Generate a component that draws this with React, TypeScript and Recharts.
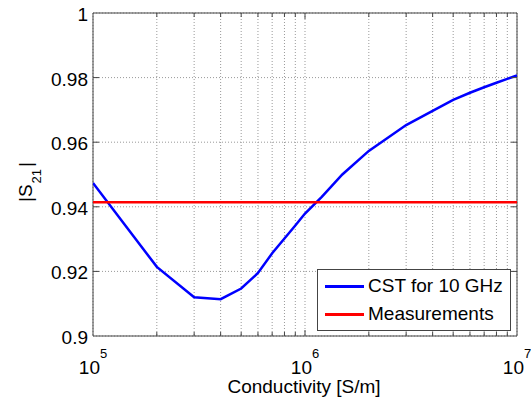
import React from 'react';
import { LineChart, Line, XAxis, YAxis, CartesianGrid, ReferenceArea, Legend } from 'recharts';

// conductivity sweep (S/m) and simulated |S21|
const CST_SIGMA = [1e5, 2e5, 3e5, 4e5, 5e5, 6e5, 7e5, 8e5, 9e5, 1e6, 1.2e6, 1.5e6, 2e6, 3e6, 4e6, 5e6, 6e6, 7e6, 8e6, 9e6, 1e7];
const CST_S21 = [0.9474, 0.9214, 0.912, 0.9114, 0.9147, 0.9195, 0.9256, 0.9302, 0.9342, 0.9379, 0.9431, 0.95, 0.9573, 0.9653, 0.9697, 0.9731, 0.9753, 0.977, 0.9784, 0.9796, 0.9807];

// measured level, drawn across the whole sweep
const MEAS_SIGMA = [1e5, 1e7];
const MEAS_S21 = [0.9414, 0.9414];

const X_TICKS = [
  1e5, 2e5, 3e5, 4e5, 5e5, 6e5, 7e5, 8e5, 9e5,
  1e6, 2e6, 3e6, 4e6, 5e6, 6e6, 7e6, 8e6, 9e6, 1e7,
];
const Y_TICKS = [0.9, 0.92, 0.94, 0.96, 0.98, 1];

const cstData = CST_SIGMA.map((sigma, i) => ({ sigma, s21: CST_S21[i] }));
const measData = MEAS_SIGMA.map((sigma, i) => ({ sigma, s21: MEAS_S21[i] }));

const W = 531;
const H = 403;
const PLOT = { left: 93, top: 13, right: 517, bottom: 336 };
const FONT = '"Liberation Sans", Arial, Helvetica, sans-serif';
const FS = 19;
const BOX = '#444';

function isDecade(v: number) {
  const e = Math.log10(v);
  return Math.abs(e - Math.round(e)) < 1e-9;
}

function XTick(props: any) {
  const { x, payload } = props;
  const v = payload.value as number;
  const major = isDecade(v);
  const len = major ? 6 : 4;
  const edge = v === X_TICKS[0] || v === X_TICKS[X_TICKS.length - 1];
  return (
    <g>
      {!edge && <line x1={x} y1={PLOT.bottom} x2={x} y2={PLOT.bottom - len} stroke={BOX} />}
      {!edge && <line x1={x} y1={PLOT.top} x2={x} y2={PLOT.top + len} stroke={BOX} />}
      {major && (
        <text x={x} y={PLOT.bottom + 38} textAnchor="middle" fontFamily={FONT} fontSize={FS} fill="#000">
          <tspan>10</tspan>
          <tspan dy={-16} fontSize={13}>{Math.round(Math.log10(v))}</tspan>
        </text>
      )}
    </g>
  );
}

function YTick(props: any) {
  const { y, payload } = props;
  const v = payload.value as number;
  const edge = v === Y_TICKS[0] || v === Y_TICKS[Y_TICKS.length - 1];
  return (
    <g>
      {!edge && <line x1={PLOT.left} y1={y} x2={PLOT.left + 6} y2={y} stroke={BOX} />}
      {!edge && <line x1={PLOT.right} y1={y} x2={PLOT.right - 6} y2={y} stroke={BOX} />}
      <text x={PLOT.left - 5} y={y + 8} textAnchor="end" fontFamily={FONT} fontSize={FS} fill="#000">
        {String(+v.toFixed(2))}
      </text>
    </g>
  );
}

function LegendBox({ payload }: any) {
  return (
    <div
      style={{
        width: 192,
        height: 60,
        background: '#fff',
        border: `1px solid ${BOX}`,
        fontFamily: FONT,
        fontSize: FS,
        color: '#000',
        boxSizing: 'content-box',
      }}
    >
      {(payload || []).map((item: any, i: number) => (
        <div key={i} style={{ display: 'flex', alignItems: 'center', height: 28, marginTop: i === 0 ? 2 : 0 }}>
          <div style={{ width: 39, height: 3, background: item.color, marginLeft: 7, marginRight: 4 }} />
          <span>{item.value}</span>
        </div>
      ))}
    </div>
  );
}

export default function App() {
  return (
    <div style={{ position: 'absolute', left: 0, top: 0, width: W, height: H, background: '#fff' }}>
      <LineChart
        width={W}
        height={H}
        margin={{ top: PLOT.top, right: W - PLOT.right, left: PLOT.left - 60, bottom: H - PLOT.bottom - 60 }}
      >
        <CartesianGrid stroke="#999" strokeDasharray="1 2" />
        <XAxis
          dataKey="sigma"
          type="number"
          scale="log"
          domain={[1e5, 1e7]}
          ticks={X_TICKS}
          interval={0}
          height={60}
          axisLine={false}
          tickLine={false}
          tickSize={0}
          tickMargin={0}
          tick={<XTick />}
          allowDataOverflow
          label={{
            content: () => (
              <text x={304} y={H - 10} textAnchor="middle" fontFamily={FONT} fontSize={FS} fill="#000">
                Conductivity [S/m]
              </text>
            ),
          }}
        />
        <YAxis
          type="number"
          domain={[0.9, 1]}
          ticks={Y_TICKS}
          interval={0}
          width={60}
          axisLine={false}
          tickLine={false}
          tickSize={0}
          tickMargin={0}
          tick={<YTick />}
          allowDataOverflow
          label={{
            content: () => (
              <text x={32} y={182} transform="rotate(-90, 32, 182)" textAnchor="middle" fontFamily={FONT} fontSize={FS} fill="#000">
                <tspan>|S</tspan>
                <tspan dx={1} dy={9} fontSize={13}>21</tspan>
                <tspan dx={2} dy={-9}>|</tspan>
              </text>
            ),
          }}
        />
        <ReferenceArea x1={1e5} x2={1e7} y1={0.9} y2={1} fill="none" stroke={BOX} strokeWidth={1} />
        <Line
          data={cstData}
          dataKey="s21"
          name="CST for 10 GHz"
          type="linear"
          stroke="#0000ff"
          strokeWidth={2.5}
          dot={false}
          isAnimationActive={false}
        />
        <Line
          data={measData}
          dataKey="s21"
          name="Measurements"
          type="linear"
          stroke="#ff0000"
          strokeWidth={2.5}
          dot={false}
          isAnimationActive={false}
        />
        <Legend
          layout="horizontal"
          verticalAlign="middle"
          align="center"
          content={<LegendBox />}
          wrapperStyle={{ left: 317, top: 269, width: 194, height: 62 }}
        />
      </LineChart>
    </div>
  );
}
